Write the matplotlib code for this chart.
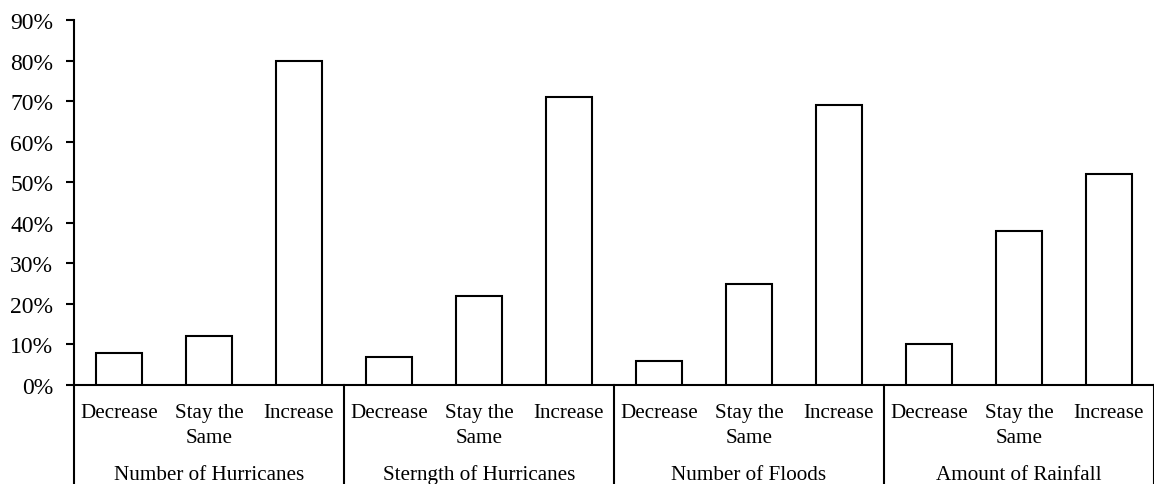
import matplotlib
matplotlib.use("Agg")
import matplotlib.pyplot as plt
from matplotlib.transforms import blended_transform_factory
from matplotlib.lines import Line2D

groups = ["Number of Hurricanes", "Sterngth of Hurricanes", "Number of Floods", "Amount of Rainfall"]
responses = ["Decrease", "Stay the\nSame", "Increase"]
values = [
    [8, 12, 80],
    [7, 22, 71],
    [6, 25, 69],
    [10, 38, 52],
]
y_ticks = [0, 10, 20, 30, 40, 50, 60, 70, 80, 90]

plt.rcParams["font.family"] = ["Liberation Serif", "DejaVu Serif"]

W, H = 1154, 485
fig = plt.figure(figsize=(W / 100, H / 100), dpi=100)
ax = fig.add_axes([74 / W, (H - 386) / H, (W - 74) / W, (386 - 21) / H])

n_resp = len(responses)
xs, hs = [], []
for gi, vals in enumerate(values):
    for ri, v in enumerate(vals):
        xs.append(gi * n_resp + ri)
        hs.append(v)

ax.bar(xs, hs, width=0.51, color="white", edgecolor="black", linewidth=1.5, zorder=3)

ax.set_xlim(-0.5, len(xs) - 0.5)
ax.set_ylim(0, 90)
ax.set_yticks(y_ticks)
ax.set_yticklabels([f"{t}%" for t in y_ticks], fontsize=17)
ax.tick_params(axis="y", length=6, width=1.5, pad=9)
ax.set_xticks([])

for s in ["top", "right"]:
    ax.spines[s].set_visible(False)
for s in ["left", "bottom"]:
    ax.spines[s].set_linewidth(1.5)

tr = blended_transform_factory(ax.transData, fig.transFigure)

# category labels under each bar, one text per line so baselines line up
line_gap = 25
for x in xs:
    for li, part in enumerate(responses[x % n_resp].split("\n")):
        ax.text(x, (H - 418 - li * line_gap) / H, part, transform=tr,
                ha="center", va="baseline", fontsize=15.2, clip_on=False)

# group labels and separators
for gi, g in enumerate(groups):
    cx = gi * n_resp + (n_resp - 1) / 2
    ax.text(cx, (H - 480) / H, g, transform=tr, ha="center", va="baseline",
            fontsize=15.2, clip_on=False)

for b in range(len(groups) + 1):
    xb = b * n_resp - 0.5
    ax.add_line(Line2D([xb, xb], [0, (H - 386) / H], transform=tr,
                       color="black", linewidth=1.5, clip_on=False))

fig.savefig("out.png", dpi=100, facecolor="white")
